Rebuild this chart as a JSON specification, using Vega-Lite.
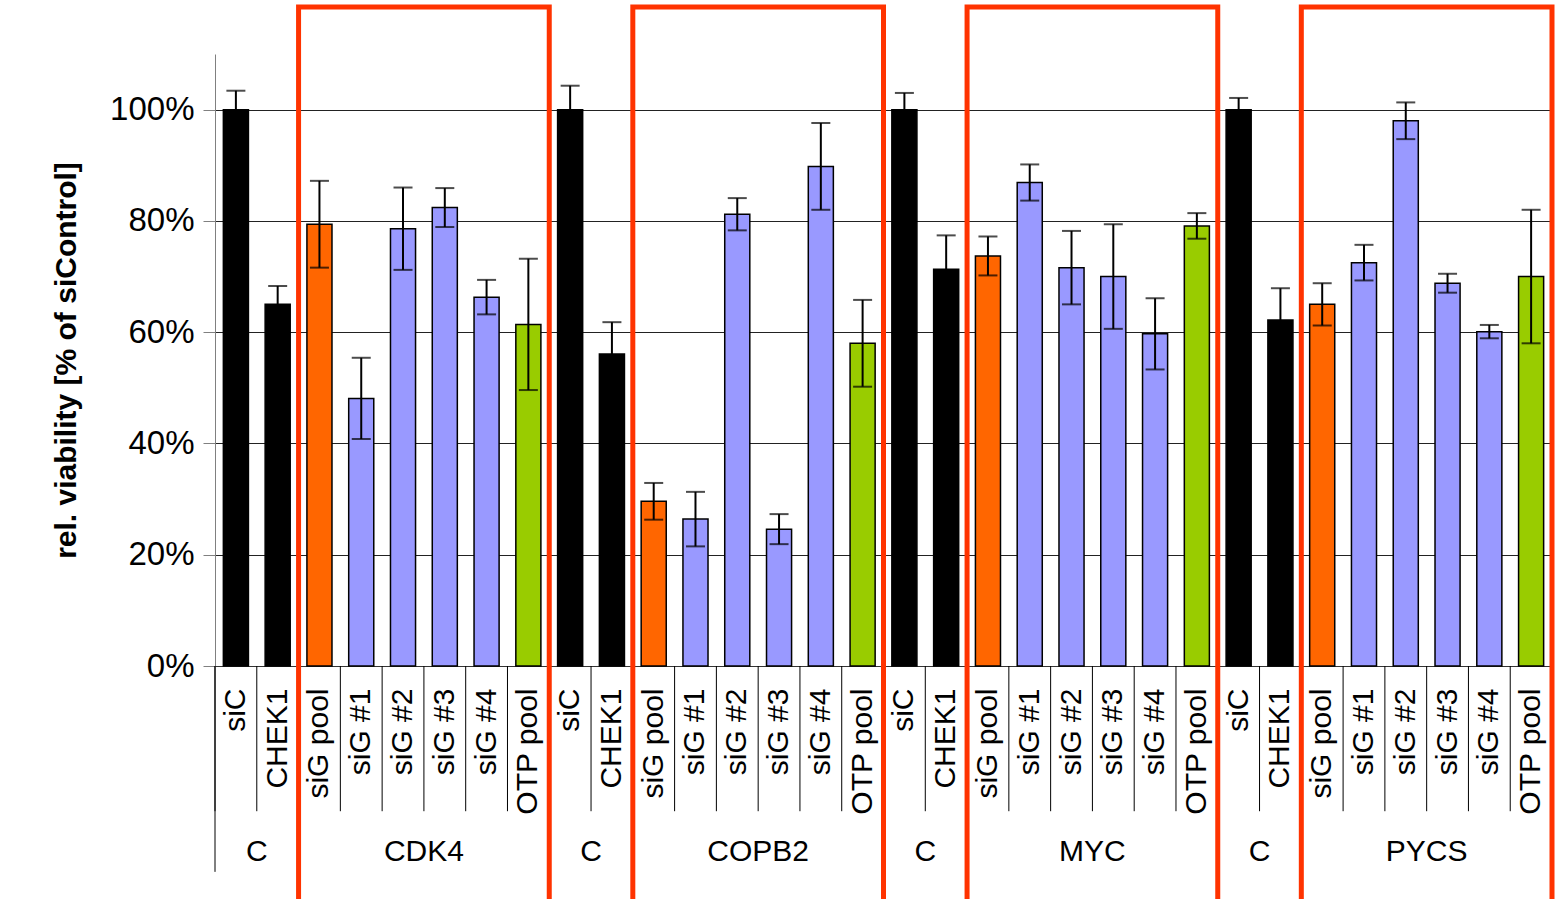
{
  "$schema": "https://vega.github.io/schema/vega-lite/v6.json",
  "width": 1337,
  "height": 612,
  "autosize": {"type": "none"},
  "padding": {"left": 215, "top": 54, "right": 15, "bottom": 233},
  "background": "white",
  "config": {"view": {"stroke": null}, "font": "Liberation Sans"},
  "datasets": {
    "bars": [
      {"key": "01|siC", "v": 100, "e": 3.4, "type": "ctrl"},
      {"key": "02|CHEK1", "v": 65.0, "e": 3.3, "type": "ctrl"},
      {"key": "03|siG pool", "v": 79.4, "e": 7.8, "type": "pool"},
      {"key": "04|siG #1", "v": 48.1, "e": 7.3, "type": "single"},
      {"key": "05|siG #2", "v": 78.6, "e": 7.4, "type": "single"},
      {"key": "06|siG #3", "v": 82.4, "e": 3.5, "type": "single"},
      {"key": "07|siG #4", "v": 66.3, "e": 3.1, "type": "single"},
      {"key": "08|OTP pool", "v": 61.4, "e": 11.8, "type": "otp"},
      {"key": "09|siC", "v": 100, "e": 4.3, "type": "ctrl"},
      {"key": "10|CHEK1", "v": 56.1, "e": 5.7, "type": "ctrl"},
      {"key": "11|siG pool", "v": 29.6, "e": 3.3, "type": "pool"},
      {"key": "12|siG #1", "v": 26.4, "e": 4.9, "type": "single"},
      {"key": "13|siG #2", "v": 81.2, "e": 2.9, "type": "single"},
      {"key": "14|siG #3", "v": 24.6, "e": 2.7, "type": "single"},
      {"key": "15|siG #4", "v": 89.8, "e": 7.8, "type": "single"},
      {"key": "16|OTP pool", "v": 58.0, "e": 7.8, "type": "otp"},
      {"key": "17|siC", "v": 100, "e": 3.0, "type": "ctrl"},
      {"key": "18|CHEK1", "v": 71.3, "e": 6.1, "type": "ctrl"},
      {"key": "19|siG pool", "v": 73.7, "e": 3.5, "type": "pool"},
      {"key": "20|siG #1", "v": 86.9, "e": 3.25, "type": "single"},
      {"key": "21|siG #2", "v": 71.6, "e": 6.6, "type": "single"},
      {"key": "22|siG #3", "v": 70.0, "e": 9.4, "type": "single"},
      {"key": "23|siG #4", "v": 59.7, "e": 6.4, "type": "single"},
      {"key": "24|OTP pool", "v": 79.1, "e": 2.3, "type": "otp"},
      {"key": "25|siC", "v": 100, "e": 2.1, "type": "ctrl"},
      {"key": "26|CHEK1", "v": 62.2, "e": 5.7, "type": "ctrl"},
      {"key": "27|siG pool", "v": 65.0, "e": 3.8, "type": "pool"},
      {"key": "28|siG #1", "v": 72.5, "e": 3.2, "type": "single"},
      {"key": "29|siG #2", "v": 98.0, "e": 3.3, "type": "single"},
      {"key": "30|siG #3", "v": 68.8, "e": 1.7, "type": "single"},
      {"key": "31|siG #4", "v": 60.1, "e": 1.2, "type": "single"},
      {"key": "32|OTP pool", "v": 70.0, "e": 12.0, "type": "otp"}
    ],
    "groups": [
      {"g": "C", "first": "01|siC", "last": "02|CHEK1", "mid": "02|CHEK1", "box": false},
      {"g": "CDK4", "first": "03|siG pool", "last": "08|OTP pool", "mid": "06|siG #3", "box": true},
      {"g": "C", "first": "09|siC", "last": "10|CHEK1", "mid": "10|CHEK1", "box": false},
      {"g": "COPB2", "first": "11|siG pool", "last": "16|OTP pool", "mid": "14|siG #3", "box": true},
      {"g": "C", "first": "17|siC", "last": "18|CHEK1", "mid": "18|CHEK1", "box": false},
      {"g": "MYC", "first": "19|siG pool", "last": "24|OTP pool", "mid": "22|siG #3", "box": true},
      {"g": "C", "first": "25|siC", "last": "26|CHEK1", "mid": "26|CHEK1", "box": false},
      {"g": "PYCS", "first": "27|siG pool", "last": "32|OTP pool", "mid": "30|siG #3", "box": true}
    ]
  },
  "layer": [
    {
      "data": {"name": "bars"},
      "mark": {"type": "bar", "stroke": "black", "strokeWidth": 1.5, "width": {"band": 0.6}},
      "encoding": {
        "x": {
          "field": "key", "type": "nominal",
          "scale": {"paddingInner": 0, "paddingOuter": 0},
          "axis": {
            "title": null,
            "labelExpr": "split(datum.value, '|')[1]",
            "labelAngle": -90,
            "labelFontSize": 30,
            "labelFont": "Liberation Sans",
            "labelColor": "black",
            "labelPadding": 22,
            "ticks": false,
            "domainColor": "#333333",
            "domainWidth": 1
          }
        },
        "y": {
          "field": "v", "type": "quantitative",
          "title": "rel. viability [% of siControl]",
          "scale": {"domain": [0, 110], "nice": false},
          "axis": {
            "title": "rel. viability [% of siControl]",
            "values": [0, 20, 40, 60, 80, 100],
            "labelExpr": "datum.value + '%'",
            "labelFontSize": 33,
            "labelFont": "Liberation Sans",
            "labelColor": "black",
            "labelPadding": 9,
            "tickSize": 12,
            "tickColor": "#808080",
            "domainColor": "#808080",
            "grid": true,
            "gridColor": "#222222",
            "gridWidth": 1,
            "titleFont": "Liberation Sans",
            "titleFontSize": 30,
            "titleFontWeight": "bold",
            "titleColor": "black",
            "titlePadding": 28
          }
        },
        "color": {
          "field": "type", "type": "nominal",
          "scale": {"domain": ["ctrl", "pool", "single", "otp"], "range": ["#000000", "#ff6600", "#9999ff", "#99cc00"]},
          "legend": null
        }
      }
    },
    {
      "data": {"name": "bars"},
      "mark": {"type": "rule", "color": "black", "strokeWidth": 1},
      "encoding": {
        "x": {"field": "key", "type": "nominal", "bandPosition": 0},
        "y": {"datum": 0, "type": "quantitative", "scale": {"domain": [0, 110], "nice": false}},
        "y2": {"datum": -26.1}
      }
    },
    {
      "data": {"name": "groups"},
      "mark": {"type": "rule", "color": "black", "strokeWidth": 1},
      "encoding": {
        "x": {"field": "first", "type": "nominal", "bandPosition": 0},
        "y": {"datum": 0, "type": "quantitative", "scale": {"domain": [0, 110], "nice": false}},
        "y2": {"datum": -37}
      }
    },
    {
      "data": {"name": "groups"},
      "mark": {"type": "rule", "color": "black", "strokeWidth": 1},
      "encoding": {
        "x": {"field": "last", "type": "nominal", "bandPosition": 1},
        "y": {"datum": 0, "type": "quantitative", "scale": {"domain": [0, 110], "nice": false}},
        "y2": {"datum": -37}
      }
    },
    {
      "data": {"name": "bars"},
      "mark": {
        "type": "errorbar",
        "ticks": {"size": 19, "thickness": 2, "color": "black"},
        "rule": {"strokeWidth": 2, "color": "black"}
      },
      "encoding": {
        "x": {"field": "key", "type": "nominal"},
        "y": {"field": "v", "type": "quantitative", "title": "rel. viability [% of siControl]", "scale": {"domain": [0, 110], "nice": false}},
        "yError": {"field": "e"}
      }
    },
    {
      "data": {"name": "groups"},
      "mark": {"type": "text", "fontSize": 30, "font": "Liberation Sans", "color": "black", "align": "center", "baseline": "middle"},
      "encoding": {
        "x": {"field": "mid", "type": "nominal", "bandPosition": 0},
        "y": {"datum": -33.4, "type": "quantitative", "scale": {"domain": [0, 110], "nice": false}},
        "text": {"field": "g"}
      }
    },
    {
      "data": {"name": "groups"},
      "transform": [{"filter": "datum.box"}],
      "mark": {"type": "rect", "filled": false, "color": "#ff3300", "strokeWidth": 5},
      "encoding": {
        "x": {"field": "first", "type": "nominal", "bandPosition": 0},
        "x2": {"field": "last", "bandPosition": 1},
        "y": {"datum": 118.45, "type": "quantitative", "scale": {"domain": [0, 110], "nice": false}},
        "y2": {"datum": -45}
      }
    }
  ]
}
